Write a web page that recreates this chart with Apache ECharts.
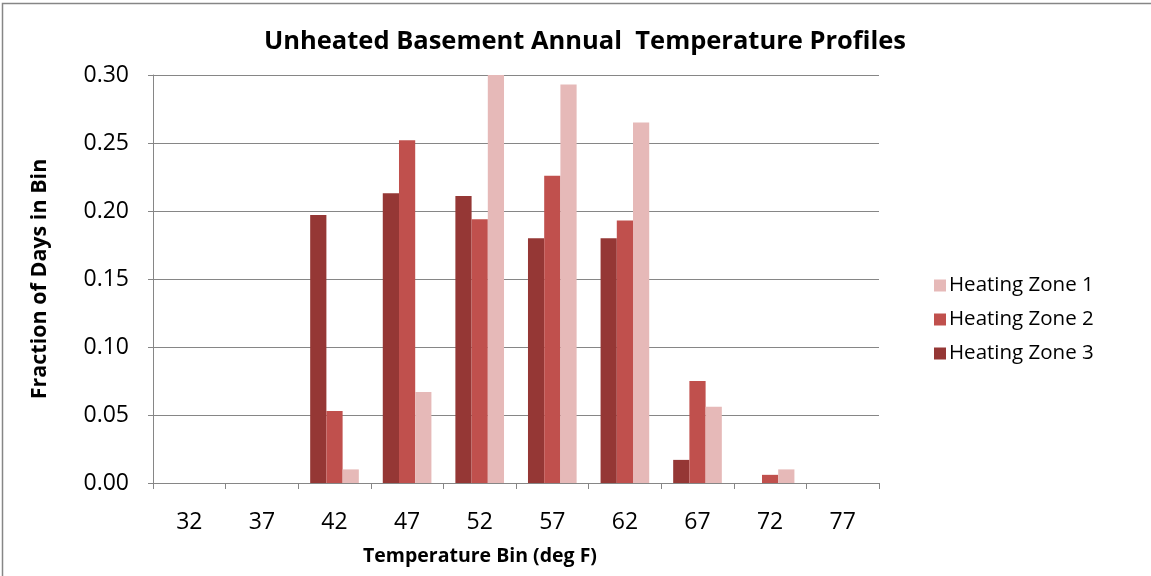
<!DOCTYPE html>
<html>
<head>
<meta charset="utf-8">
<script src="https://cdn.jsdelivr.net/npm/echarts@6/dist/echarts.min.js"></script>
<style>
  html, body { margin: 0; padding: 0; background: #fff; }
  #chart { width: 1151px; height: 576px; }
</style>
</head>
<body>
<div id="chart"></div>
<script>
// Temperature bins (deg F)
const categories = ['32', '37', '42', '47', '52', '57', '62', '67', '72', '77'];

// Fraction of days falling in each bin, per heating zone
const zone1 = [0, 0, 0.010, 0.067, 0.300, 0.293, 0.265, 0.056, 0.010, 0];
const zone2 = [0, 0, 0.053, 0.252, 0.194, 0.226, 0.193, 0.075, 0.006, 0];
const zone3 = [0, 0, 0.197, 0.213, 0.211, 0.180, 0.180, 0.017, 0, 0];

const yTicks = { min: 0, max: 0.30, interval: 0.05 };

const FONT = '"Open Sans", "Noto Sans", sans-serif';
const AXIS_GRAY = '#868686';

const chart = echarts.init(document.getElementById('chart'));

chart.setOption({
  animation: false,
  backgroundColor: '#ffffff',
  textStyle: { fontFamily: FONT, color: '#000' },
  title: {
    text: 'Unheated Basement Annual  Temperature Profiles',
    left: 259,
    top: 24,
    textStyle: { fontFamily: FONT, fontSize: 25.5, fontWeight: 'bold', color: '#000' }
  },
  graphic: [
    {
      type: 'rect',
      silent: true,
      shape: { x: 2.5, y: 3.5, width: 1200, height: 700 },
      style: { fill: 'none', stroke: AXIS_GRAY, lineWidth: 1.5 }
    },
    {
      type: 'text',
      left: 363,
      top: 546,
      style: {
        text: 'Temperature Bin (deg F)',
        font: 'bold 19.5px ' + FONT,
        fill: '#000'
      }
    }
  ],
  legend: {
    orient: 'vertical',
    left: 929,
    top: 270,
    itemWidth: 12,
    itemHeight: 12,
    itemGap: 13,
    icon: 'rect',
    data: ['Heating Zone 1', 'Heating Zone 2', 'Heating Zone 3'],
    textStyle: { fontFamily: FONT, fontSize: 20.5, color: '#000', padding: [0, 0, 0, -2] }
  },
  grid: { left: 153, right: 272, top: 75, bottom: 93 },
  xAxis: {
    type: 'category',
    data: categories,
    axisLine: { lineStyle: { color: AXIS_GRAY, width: 1 } },
    axisTick: { show: true, length: 6, lineStyle: { color: AXIS_GRAY } },
    axisLabel: { fontFamily: FONT, fontSize: 23, color: '#000', margin: 28 }
  },
  yAxis: {
    type: 'value',
    min: yTicks.min,
    max: yTicks.max,
    interval: yTicks.interval,
    name: 'Fraction of Days in Bin',
    nameLocation: 'middle',
    nameGap: 102,
    nameTextStyle: { fontFamily: FONT, fontSize: 21.5, fontWeight: 'bold', color: '#000' },
    axisLine: { show: true, lineStyle: { color: AXIS_GRAY, width: 1 } },
    axisTick: { show: true, length: 5, lineStyle: { color: AXIS_GRAY } },
    axisLabel: {
      fontFamily: FONT, fontSize: 23, color: '#000', margin: 24,
      formatter: v => v.toFixed(2)
    },
    splitLine: { lineStyle: { color: AXIS_GRAY, width: 1 } }
  },
  series: [
    {
      name: 'Heating Zone 3', type: 'bar', data: zone3,
      barGap: '0%', barCategoryGap: '33%',
      itemStyle: { color: '#953735' }
    },
    {
      name: 'Heating Zone 2', type: 'bar', data: zone2,
      barGap: '0%', barCategoryGap: '33%',
      itemStyle: { color: '#C0504D' }
    },
    {
      name: 'Heating Zone 1', type: 'bar', data: zone1,
      barGap: '0%', barCategoryGap: '33%',
      itemStyle: { color: '#E6B9B8' }
    }
  ]
});
</script>
</body>
</html>
